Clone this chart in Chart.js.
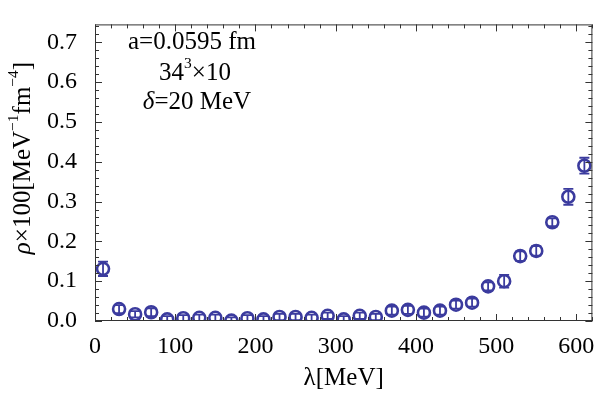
<!DOCTYPE html>
<html>
<head>
<meta charset="utf-8">
<script src="https://cdn.jsdelivr.net/npm/chart.js@4.4.1/dist/chart.umd.min.js"></script>
<style>
  html, body { margin: 0; padding: 0; background: #fff; }
  canvas { display: block; }
</style>
</head>
<body>
<canvas id="grafico" width="601" height="397"></canvas>
<script>
// spectral density points, lambda in MeV
const lambda = [10, 30, 50, 70, 90, 110, 130, 150, 170, 190, 210, 230, 250, 270, 290, 310,
                330, 350, 370, 390, 410, 430, 450, 470, 490, 510, 530, 550, 570, 590, 610];
const rho = [0.131, 0.030, 0.017, 0.022, 0.004, 0.007, 0.008, 0.008, 0.001, 0.007, 0.004,
             0.010, 0.010, 0.008, 0.013, 0.004, 0.013, 0.010, 0.026, 0.028, 0.021, 0.026,
             0.041, 0.046, 0.087, 0.100, 0.163, 0.176, 0.248, 0.312, 0.390];
const rhoErr = [0.018, 0.010, 0.008, 0.010, 0.008, 0.008, 0.008, 0.008, 0.008, 0.008, 0.008,
                0.008, 0.008, 0.008, 0.008, 0.008, 0.008, 0.008, 0.010, 0.010, 0.010, 0.010,
                0.010, 0.010, 0.010, 0.016, 0.012, 0.012, 0.010, 0.020, 0.020];
const xTicks = [0, 100, 200, 300, 400, 500, 600];
const yTicks = [0, 0.1, 0.2, 0.3, 0.4, 0.5, 0.6, 0.7];
const notas = ['a=0.0595 fm', '34\u00b3\u00d710', '=20 MeV'];

const cor = '#3b3b9e';
const fonte = '"Liberation Serif", "DejaVu Serif", serif';

// error bars drawn through the scales
const barrasErro = {
    id: 'barrasErro',
    afterDatasetsDraw(chart) {
        const { ctx, chartArea, scales: { x, y } } = chart;
        ctx.save();
        ctx.beginPath();
        ctx.rect(chartArea.left, chartArea.top, chartArea.right - chartArea.left, chartArea.bottom - chartArea.top);
        ctx.clip();
        ctx.strokeStyle = cor;
        ctx.lineWidth = 1.8;
        lambda.forEach((l, i) => {
            const px = x.getPixelForValue(l);
            const y1 = y.getPixelForValue(rho[i] - rhoErr[i]);
            const y2 = y.getPixelForValue(rho[i] + rhoErr[i]);
            ctx.beginPath();
            ctx.moveTo(px, y1); ctx.lineTo(px, y2);
            ctx.moveTo(px - 5, y1); ctx.lineTo(px + 5, y1);
            ctx.moveTo(px - 5, y2); ctx.lineTo(px + 5, y2);
            ctx.stroke();
        });
        ctx.restore();
    }
};

// writes pieces left to right, superscripts smaller and raised
function escreverPartes(ctx, partes, cx, cy, tam) {
    const medir = p => {
        ctx.font = (p.it ? 'italic ' : '') + (p.sup ? tam * 0.62 : tam) + 'px ' + fonte;
        return ctx.measureText(p.t).width;
    };
    const total = partes.reduce((s, p) => s + medir(p), 0);
    let px = cx - total / 2;
    ctx.textAlign = 'left';
    partes.forEach(p => {
        const w = medir(p);
        ctx.fillText(p.t, px, p.sup ? cy - tam * 0.38 : cy);
        px += w;
    });
}

// frame with inward ticks on all four sides, plus the text block
const moldura = {
    id: 'moldura',
    afterDraw(chart) {
        const { ctx, chartArea: a, scales: { x, y } } = chart;
        ctx.save();
        ctx.strokeStyle = '#333';
        ctx.lineWidth = 1;
        ctx.strokeRect(a.left + 0.5, a.top + 0.5, a.right - a.left - 1, a.bottom - a.top - 1);
        ctx.beginPath();
        for (let v = 0; v <= 620; v += 20) {
            const px = Math.round(x.getPixelForValue(v)) + 0.5;
            const len = v % 100 === 0 ? 7 : 4;
            ctx.moveTo(px, a.bottom); ctx.lineTo(px, a.bottom - len);
            ctx.moveTo(px, a.top); ctx.lineTo(px, a.top + len);
        }
        for (let k = 0; k <= 37; k++) {
            const py = Math.round(y.getPixelForValue(k * 0.02)) + 0.5;
            const len = k % 5 === 0 ? 7 : 4;
            ctx.moveTo(a.left, py); ctx.lineTo(a.left + len, py);
            ctx.moveTo(a.right, py); ctx.lineTo(a.right - len, py);
        }
        ctx.stroke();

        ctx.fillStyle = '#000';
        ctx.textBaseline = 'middle';
        escreverPartes(ctx, [{ t: notas[0] }], 192, 42, 25);
        escreverPartes(ctx, [{ t: '34' }, { t: '3', sup: true }, { t: '\u00d710' }], 195, 73, 25);
        escreverPartes(ctx, [{ t: '\u03b4', it: true }, { t: notas[2] }], 197, 102, 25);

        // y axis title
        ctx.translate(23, 158);
        ctx.rotate(-Math.PI / 2);
        escreverPartes(ctx, [
            { t: '\u03c1', it: true }, { t: '\u00d7100[MeV' }, { t: '\u22121', sup: true },
            { t: 'fm' }, { t: '\u22124', sup: true }, { t: ']' }
        ], 0, 0, 25);
        ctx.restore();
    }
};

new Chart(document.getElementById('grafico').getContext('2d'), {
    type: 'scatter',
    data: {
        datasets: [{
            data: lambda.map((l, i) => ({ x: l, y: rho[i] })),
            pointStyle: 'circle',
            pointRadius: 6,
            pointBorderWidth: 2.6,
            pointBackgroundColor: 'rgba(0,0,0,0)',
            pointBorderColor: cor,
            clip: 0
        }]
    },
    options: {
        responsive: false,
        animation: false,
        layout: { padding: { top: 13, right: 3, left: 0, bottom: 0 } },
        plugins: { legend: { display: false }, tooltip: { enabled: false } },
        scales: {
            x: {
                type: 'linear',
                min: 0,
                max: 620,
                afterBuildTicks: s => { s.ticks = xTicks.map(v => ({ value: v })); },
                afterFit: s => { s.height = 76; },
                grid: { display: false },
                border: { display: false },
                ticks: { color: '#000', padding: 3, font: { family: fonte, size: 24 } },
                title: { display: true, text: '\u03bb[MeV]', color: '#000', padding: { top: 3 }, font: { family: fonte, size: 25 } }
            },
            y: {
                type: 'linear',
                min: 0,
                max: 0.745,
                afterBuildTicks: s => { s.ticks = yTicks.map(v => ({ value: v })); },
                afterFit: s => { s.width = 95; },
                grid: { display: false },
                border: { display: false },
                ticks: { color: '#000', padding: 10, font: { family: fonte, size: 24 }, callback: v => v.toFixed(1) }
            }
        }
    },
    plugins: [barrasErro, moldura]
});
</script>
</body>
</html>
